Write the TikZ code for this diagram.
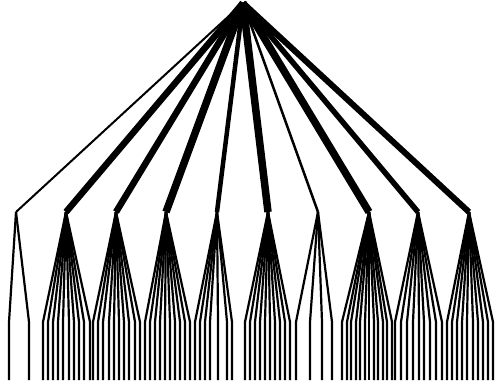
\documentclass[tikz,border=0pt]{standalone}
\usetikzlibrary{calc}

\tikzset{
  trunk/.style={line width=#1, line cap=butt, line join=miter},
  twig/.style={line width=2.2pt, line join=miter}
}

\begin{document}
\begin{tikzpicture}[x=1pt,y=-1pt]
  \useasboundingbox (0,0) rectangle (503,388);
  \coordinate (root) at (243,3);
  % group: number / child x / width / leaf positions
  \foreach \i/\cx/\w/\xs in {
      1/16/2/{9,29},
      2/66/6.5/{43,48,53,58,63,69,74,79,84,90},
      3/116/6.5/{93,98,103,109,114,119,124,129,135,140},
      4/166/7.5/{145,150,155,160,165,170,175,180,185,190},
      5/217/4.5/{195,200,205,210,218,227,232},
      6/268/7.5/{245,250,255,260,265,270,275,280,285,290},
      7/318/2.5/{296,310,322,332},
      8/369/7.5/{342,347,351,356,360,365,369,374,378,383,387,392},
      9/418/5.5/{395,401,407,413,419,424,430,436,442},
      10/469/6/{447,452,457,462,467,473,478,483,488,493}} {
    \coordinate (c\i) at (\cx,212);
    \draw[trunk=\w pt] (root) -- (c\i);
    \foreach \lx [count=\j] in \xs {
      \coordinate (l\i-\j) at (\lx,322);
      \coordinate (b\i-\j) at (\lx,380);
      \draw[twig] (c\i) -- (l\i-\j) -- (b\i-\j);
    }
  }
\end{tikzpicture}
\end{document}
